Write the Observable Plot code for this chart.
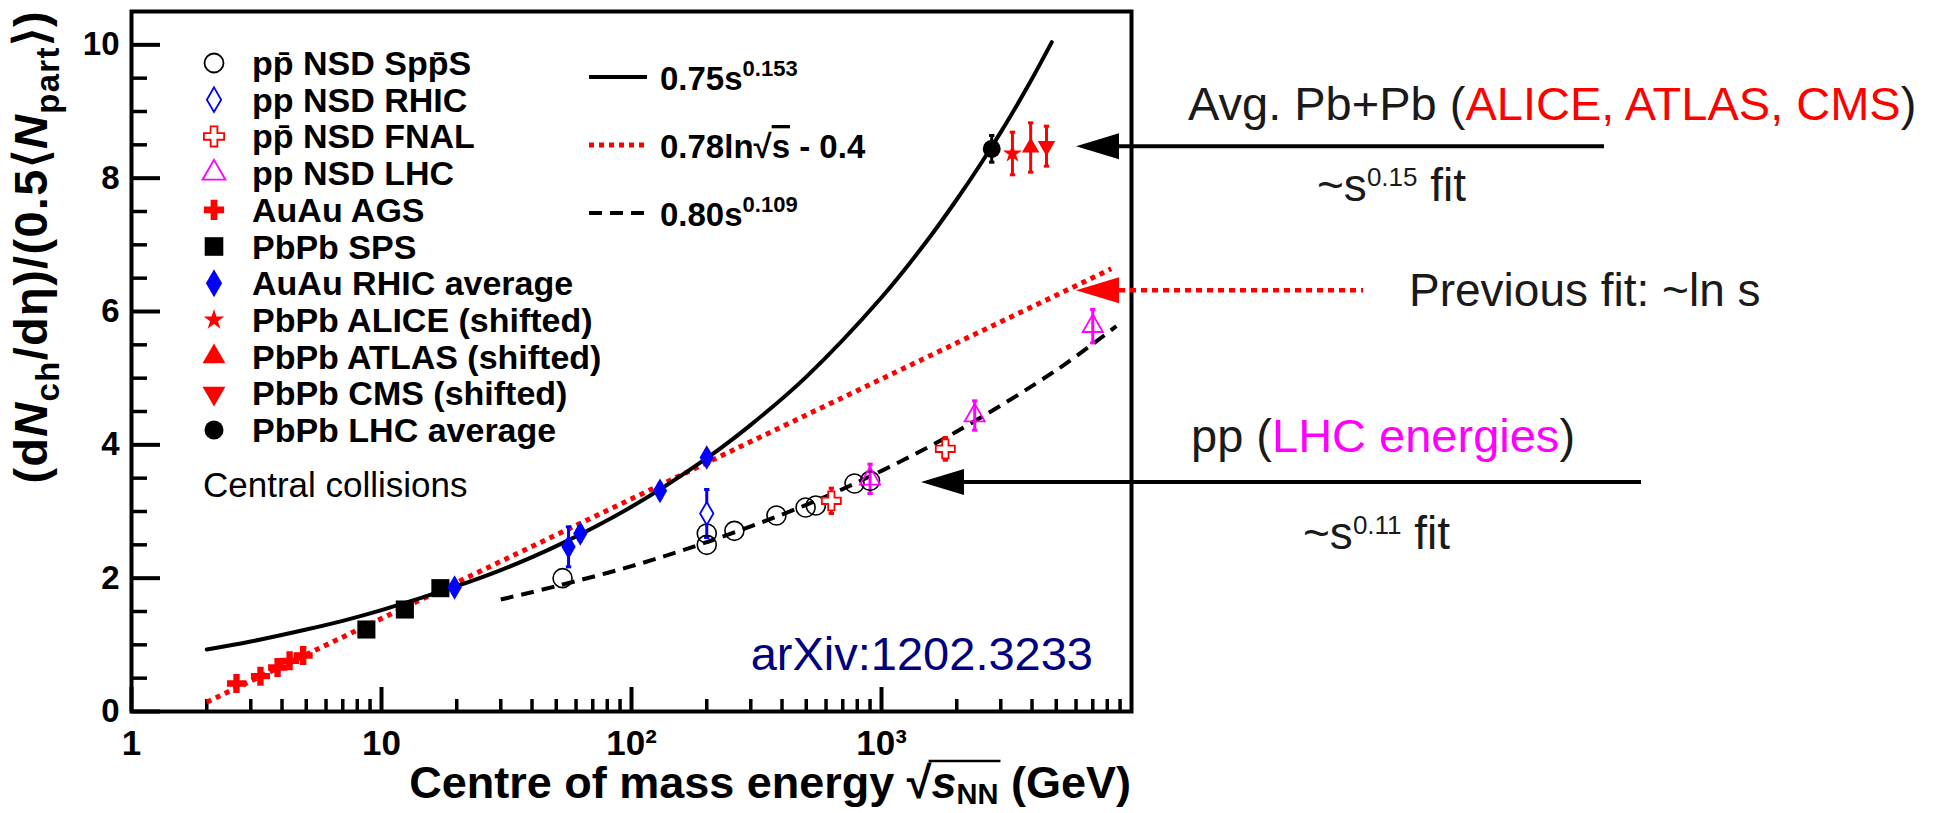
<!DOCTYPE html>
<html><head><meta charset="utf-8">
<script src="https://cdn.jsdelivr.net/npm/d3@7"></script>
<script src="https://cdn.jsdelivr.net/npm/@observablehq/plot@0.6"></script>
<style>
html,body{margin:0;padding:0;background:#fff;}
#chart svg{display:block;font-family:"Liberation Sans",Arial,Helvetica,sans-serif;background:#fff;}
g[aria-label="y-axis tick label"] text{font-size:33px;font-weight:bold;fill:#000;}
g[aria-label="x-axis tick label"] text{font-size:35px;font-weight:bold;fill:#000;}
</style></head><body><div id="chart"></div>
<script>
// ---------------- data ----------------
const X_TICKS_MAJOR = [1, 10, 100, 1000];
const X_TICK_LABELS = ["1", "10", "10\u00B2", "10\u00B3"];
const X_TICKS_MINOR = [2,3,4,5,6,7,8,9,20,30,40,50,60,70,80,90,200,300,400,500,600,700,800,900,2000,3000,4000,5000,6000,7000,8000,9000];
const Y_TICKS_MAJOR = [0, 2, 4, 6, 8, 10];
const Y_TICKS_MINOR = [0.5,1,1.5,2.5,3,3.5,4.5,5,5.5,6.5,7,7.5,8.5,9,9.5];

// pp̄ NSD SppS (open circles)
const SPPS_X = [53, 200, 200, 258, 380, 497, 546, 780, 900];
const SPPS_Y = [2.00, 2.67, 2.50, 2.71, 2.94, 3.06, 3.09, 3.42, 3.46];
// pp NSD RHIC (open diamond)
const PPRHIC_X = [200];
const PPRHIC_Y = [2.97];
const PPRHIC_ERR = [0.36];
// pp̄ NSD FNAL (open cross)
const FNAL_X = [630, 1800];
const FNAL_Y = [3.16, 3.94];
const FNAL_ERR = [0.19, 0.17];
// pp NSD LHC (open triangle)
const PPLHC_X = [900, 2360, 7000];
const PPLHC_Y = [3.49, 4.44, 5.78];
const PPLHC_ERR = [0.22, 0.22, 0.25];
// AuAu AGS (filled cross)
const AGS_X = [2.63, 3.28, 3.84, 4.29, 4.86];
const AGS_Y = [0.42, 0.53, 0.66, 0.76, 0.84];
// PbPb SPS (filled square)
const SPS_X = [8.7, 12.4, 17.2];
const SPS_Y = [1.23, 1.53, 1.85];
// AuAu RHIC average (filled diamond)
const RHIC_X = [19.6, 56, 62.4, 130, 200];
const RHIC_Y = [1.86, 2.47, 2.67, 3.31, 3.81];
const RHIC_ERR = [0.08, 0.30, 0.10, 0.10, 0.10];
// PbPb LHC (shifted)
const ALICE_X = [3340], ALICE_Y = [8.37], ALICE_ERR = [0.32];
const ATLAS_X = [3950], ATLAS_Y = [8.46], ATLAS_ERR = [0.37];
const CMS_X = [4570],   CMS_Y = [8.48],   CMS_ERR = [0.30];
const LHCAVG_X = [2760], LHCAVG_Y = [8.44], LHCAVG_ERR = [0.20];

// fit curves
const FIT153_X = [2, 3, 5, 7, 10, 20, 30, 50, 100, 200, 300, 500, 1000, 1500, 2000, 2500, 3000, 3500, 4000, 4800];
const FIT153_Y = [0.93, 1.05, 1.23, 1.36, 1.52, 1.88, 2.12, 2.48, 3.07, 3.80, 4.30, 5.02, 6.21, 7.03, 7.68, 8.22, 8.69, 9.11, 9.49, 10.04];
const FITLN_X = [2, 100, 8300];
const FITLN_Y = [0.14, 3.19, 6.64];
const FIT109_X = [30, 50, 100, 200, 500, 1000, 2000, 5000, 8700];
const FIT109_Y = [1.68, 1.88, 2.18, 2.54, 3.10, 3.61, 4.20, 5.12, 5.78];

const LEGEND_LABELS = ["pp\u0304 NSD Spp\u0304S", "pp NSD RHIC", "pp\u0304 NSD FNAL", "pp NSD LHC", "AuAu AGS", "PbPb SPS",
  "AuAu RHIC average", "PbPb ALICE (shifted)", "PbPb ATLAS (shifted)", "PbPb CMS (shifted)", "PbPb LHC average"];
// annotation levels (y values the arrows point at)
const ARROW_LEVELS = {pbpb: 8.47, ln: 6.31, pp: 3.435};

// ---------------- helpers ----------------
const pts = (xs, ys, es) => xs.map((x, i) => ({x, y: ys[i], e: es ? es[i] : 0}));
const spps = pts(SPPS_X, SPPS_Y), pprhic = pts(PPRHIC_X, PPRHIC_Y, PPRHIC_ERR), fnal = pts(FNAL_X, FNAL_Y, FNAL_ERR);
const pplhc = pts(PPLHC_X, PPLHC_Y, PPLHC_ERR), ags = pts(AGS_X, AGS_Y), sps = pts(SPS_X, SPS_Y);
const rhic = pts(RHIC_X, RHIC_Y, RHIC_ERR), alice = pts(ALICE_X, ALICE_Y, ALICE_ERR), atlas = pts(ATLAS_X, ATLAS_Y, ATLAS_ERR);
const cms = pts(CMS_X, CMS_Y, CMS_ERR), lhcavg = pts(LHCAVG_X, LHCAVG_Y, LHCAVG_ERR);
const fit153 = pts(FIT153_X, FIT153_Y), fitln = pts(FITLN_X, FITLN_Y), fit109 = pts(FIT109_X, FIT109_Y);

const cap = {draw(ctx, size) { const w = Math.sqrt(size) * 0.5; ctx.moveTo(-w, 0); ctx.lineTo(w, 0); }};
const err = (data, color, w = 3) => [
  Plot.ruleX(data.filter(d => d.e > 0), {x: "x", y1: d => d.y - d.e, y2: d => d.y + d.e, stroke: color, strokeWidth: w}),
  Plot.dot(data.filter(d => d.e > 0), {x: "x", y: d => d.y - d.e, symbol: cap, r: 3, stroke: color, strokeWidth: 3}),
  Plot.dot(data.filter(d => d.e > 0), {x: "x", y: d => d.y + d.e, symbol: cap, r: 3, stroke: color, strokeWidth: 3})
];

const FRAME_W = 1000, FRAME_H = 700;
const plot = Plot.plot({
  width: 1950, height: 813,
  marginLeft: 131, marginRight: 819, marginTop: 11, marginBottom: 102,
  x: {type: "log", domain: [1, 10000]},
  y: {domain: [0, 10.5]},
  marks: [
    Plot.axisY(Y_TICKS_MAJOR, {tickSize: 0, tickPadding: 12, label: null, tickFormat: d => String(d)}),
    Plot.axisX(X_TICKS_MAJOR, {tickSize: 0, tickPadding: 19, label: null, tickFormat: d => X_TICK_LABELS[X_TICKS_MAJOR.indexOf(d)]}),
    Plot.tickY(Y_TICKS_MAJOR, {y: d => d, insetRight: FRAME_W - 29, stroke: "black", strokeWidth: 4}),
    Plot.tickY(Y_TICKS_MINOR, {y: d => d, insetRight: FRAME_W - 16, stroke: "black", strokeWidth: 3.5}),
    Plot.tickX(X_TICKS_MAJOR, {x: d => d, insetTop: FRAME_H - 24, stroke: "black", strokeWidth: 4}),
    Plot.tickX(X_TICKS_MINOR, {x: d => d, insetTop: FRAME_H - 12, stroke: "black", strokeWidth: 3.5}),
    // fits
    Plot.line(fitln, {x: "x", y: "y", stroke: "#ff0000", strokeWidth: 5, strokeDasharray: "5,5", strokeLinecap: "butt"}),
    Plot.line(fit109, {x: "x", y: "y", stroke: "black", strokeWidth: 4, strokeDasharray: "13,8", strokeLinecap: "butt", curve: "catmull-rom"}),
    Plot.line(fit153, {x: "x", y: "y", stroke: "black", strokeWidth: 4, curve: "catmull-rom"}),
    // error bars
    ...err(pprhic, "#0000ff"), ...err(fnal, "#ff0000"), ...err(pplhc, "#ff00ff"), ...err(rhic, "#0000ff"),
    ...err(alice, "#ff0000"), ...err(atlas, "#ff0000"), ...err(cms, "#ff0000"), ...err(lhcavg, "black"),
    // points
    Plot.dot(spps, {x: "x", y: "y", symbol: "circle", r: 9.5, stroke: "black", strokeWidth: 1.6, fill: "none"}),
    Plot.dot(pprhic, {x: "x", y: "y", symbol: "diamond", r: 7, stroke: "#0000ff", strokeWidth: 1.8, fill: "white"}),
    Plot.dot(fnal, {x: "x", y: "y", symbol: "cross", r: 8, stroke: "#ff0000", strokeWidth: 1.8, fill: "white"}),
    Plot.dot(pplhc, {x: "x", y: "y", symbol: "triangle", r: 7.5, stroke: "#ff00ff", strokeWidth: 1.8, fill: "none"}),
    Plot.dot(ags, {x: "x", y: "y", symbol: "cross", r: 8, fill: "#ff0000", stroke: "none"}),
    Plot.dot(sps, {x: "x", y: "y", symbol: "square", r: 10.2, fill: "black", stroke: "none"}),
    Plot.dot(rhic, {x: "x", y: "y", symbol: "diamond", r: 7.5, fill: "#0000ff", stroke: "none"}),
    Plot.dot(alice, {x: "x", y: "y", symbol: "star", r: 6, fill: "#ff0000", stroke: "none"}),
    Plot.dot(atlas, {x: "x", y: "y", symbol: "triangle", r: 6.5, fill: "#ff0000", stroke: "none"}),
    Plot.dot(cms, {x: "x", y: "y", symbol: "triangle", rotate: 180, r: 6.5, fill: "#ff0000", stroke: "none"}),
    Plot.dot(lhcavg, {x: "x", y: "y", symbol: "circle", r: 9, fill: "black", stroke: "none"}),
    Plot.frame({stroke: "black", strokeWidth: 4})
  ]
});
document.getElementById("chart").appendChild(plot);

// ---------------- text, legend and annotations ----------------
const svg = d3.select(plot);
const xs = plot.scale("x"), ys = plot.scale("y");
const frameLeft = xs.range[0], frameRight = xs.range[1], frameTop = ys.range[1], frameBottom = ys.range[0];
const FONT = '"Liberation Sans",Arial,Helvetica,sans-serif';
const g = svg.append("g").attr("font-family", FONT).attr("text-anchor", "start");

function rich(parent, x, y, parts, base) {
  const t = parent.append("text").attr("x", x).attr("y", y).attr("text-anchor", "start");
  for (const k in base) t.attr(k, base[k]);
  let shift = 0;
  for (const p of parts) {
    const s = t.append("tspan").text(p.t);
    const target = p.sup ? -p.sup : (p.sub || 0);
    if (target !== shift) { s.attr("dy", target - shift); shift = target; }
    if (p.size) s.attr("font-size", p.size);
    if (p.fill) s.attr("fill", p.fill);
    if (p.weight) s.attr("font-weight", p.weight);
    if (p.italic) s.attr("font-style", "italic");
    if (p.over) s.style("text-decoration", "overline");
  }
  return t;
}

// y-axis title
rich(g.append("g").attr("transform", `translate(47,${frameTop - 1}) rotate(-90)`), 0, 0, [
  {t: "(d"}, {t: "N", italic: true}, {t: "ch", sub: 12, size: 33}, {t: "/d\u03B7)/(0.5\u27E8"},
  {t: "N", italic: true}, {t: "part", sub: 12, size: 33}, {t: "\u27E9)"}
], {"text-anchor": "end", "font-size": 47, "font-weight": "bold", fill: "black", "letter-spacing": 1.3});

// x-axis title with radical bar over s_NN
const XT_BASE = 798;
const xTitle = rich(g, frameRight, XT_BASE, [
  {t: "Centre of mass energy \u221A"}, {t: "s", italic: true}, {t: "NN", sub: 6, size: 29}, {t: " (GeV)"}
], {"text-anchor": "end", "font-size": 45, "font-weight": "bold", fill: "black", "xml:space": "preserve"});
{
  const node = xTitle.node(), txt = node.textContent;
  const iR = txt.indexOf("\u221A"), iEnd = txt.indexOf(" (GeV)") - 1;
  const xa = node.getEndPositionOfChar(iR).x - 3, xb = node.getEndPositionOfChar(iEnd).x + 2;
  g.append("line").attr("x1", xa).attr("x2", xb).attr("y1", XT_BASE - 37).attr("y2", XT_BASE - 37).attr("stroke", "black").attr("stroke-width", 2.5);
}

// legend of data sets
const LEG_SPECS = [
  {type: d3.symbolCircle, r: 9.5, fill: "none", stroke: "black"},
  {type: d3.symbolDiamond, r: 7.5, fill: "none", stroke: "#0000ff"},
  {type: d3.symbolCross, r: 8.5, fill: "white", stroke: "#ff0000"},
  {type: d3.symbolTriangle, r: 8.5, fill: "none", stroke: "#ff00ff"},
  {type: d3.symbolCross, r: 8.5, fill: "#ff0000", stroke: "none"},
  {type: d3.symbolSquare, r: 10.5, fill: "black", stroke: "none"},
  {type: d3.symbolDiamond, r: 8.5, fill: "#0000ff", stroke: "none"},
  {type: d3.symbolStar, r: 6.5, fill: "#ff0000", stroke: "none"},
  {type: d3.symbolTriangle, r: 8.5, fill: "#ff0000", stroke: "none"},
  {type: d3.symbolTriangle, r: 8.5, fill: "#ff0000", stroke: "none", rotate: 180},
  {type: d3.symbolCircle, r: 9.5, fill: "black", stroke: "none"}
];
const legX = 214, legTextX = 252, legY0 = 63, legDY = 36.7;
LEGEND_LABELS.forEach((label, i) => {
  const s = LEG_SPECS[i], cy = legY0 + i * legDY;
  g.append("path").attr("d", d3.symbol(s.type, s.r * s.r * Math.PI)())
    .attr("transform", `translate(${legX},${cy}) rotate(${s.rotate || 0})`)
    .attr("fill", s.fill).attr("stroke", s.stroke).attr("stroke-width", 1.8);
  g.append("text").attr("x", legTextX).attr("y", cy + 12).attr("font-size", 34).attr("font-weight", "bold").text(label);
});
g.append("text").attr("x", 203).attr("y", 497).attr("font-size", 35).text("Central collisions");

// legend of fits
const fitRows = [
  {dash: null, color: "black", w: 4, parts: [{t: "0.75s"}, {t: "0.153", sup: 14, size: 22}]},
  {dash: "5,5", color: "#ff0000", w: 5, parts: [{t: "0.78ln\u221A"}, {t: "s", over: true}, {t: " - 0.4"}]},
  {dash: "13,8", color: "black", w: 4, parts: [{t: "0.80s"}, {t: "0.109", sup: 14, size: 22}]}
];
fitRows.forEach((r, i) => {
  const cy = 77 + i * 68;
  g.append("line").attr("x1", 589).attr("x2", 647).attr("y1", cy).attr("y2", cy)
    .attr("stroke", r.color).attr("stroke-width", r.w).attr("stroke-dasharray", r.dash);
  rich(g, 660, cy + 13, r.parts, {"font-size": 33, "font-weight": "bold", fill: "black", "xml:space": "preserve"});
});

// arXiv tag
g.append("text").attr("x", 1093).attr("y", 670).attr("text-anchor", "end").attr("font-size", 47)
  .attr("fill", "#000080").text("arXiv:1202.3233");

// right-hand annotations
const INK = "#1a1a1a";
function arrowHead(tipX, y, color) {
  g.append("path").attr("d", `M${tipX},${y}L${tipX + 43},${y - 13}L${tipX + 43},${y + 13}Z`).attr("fill", color);
}
const yA = ys.apply(ARROW_LEVELS.pbpb), yB = ys.apply(ARROW_LEVELS.ln), yC = ys.apply(ARROW_LEVELS.pp);
// PbPb
g.append("line").attr("x1", frameRight - 15).attr("x2", frameRight + 473).attr("y1", yA).attr("y2", yA).attr("stroke", "black").attr("stroke-width", 4);
arrowHead(frameRight - 55, yA, "black");
rich(g, frameRight + 57, yA - 26, [{t: "Avg. Pb+Pb ("}, {t: "ALICE, ATLAS, CMS", fill: "#ff0000"}, {t: ")"}],
  {"font-size": 47, fill: INK, "xml:space": "preserve"});
rich(g, frameRight + 186, yA + 55, [{t: "~s"}, {t: "0.15", sup: 15, size: 26}, {t: " fit"}],
  {"font-size": 46, fill: INK, "xml:space": "preserve"});
// ln s
g.append("line").attr("x1", frameRight - 12).attr("x2", frameRight + 232).attr("y1", yB).attr("y2", yB)
  .attr("stroke", "#ff0000").attr("stroke-width", 4.5).attr("stroke-dasharray", "6,5");
arrowHead(frameRight - 55, yB, "#ff0000");
rich(g, frameRight + 278, yB + 16, [{t: "Previous fit: ~ln s"}], {"font-size": 46, fill: INK});
// pp
g.append("line").attr("x1", frameRight - 170).attr("x2", frameRight + 510).attr("y1", yC).attr("y2", yC).attr("stroke", "black").attr("stroke-width", 4);
arrowHead(frameRight - 210, yC, "black");
rich(g, frameRight + 60, yC - 30, [{t: "pp ("}, {t: "LHC energies", fill: "#ff00ff"}, {t: ")"}],
  {"font-size": 47, fill: INK, "xml:space": "preserve"});
rich(g, frameRight + 172, yC + 67, [{t: "~s"}, {t: "0.11", sup: 15, size: 26}, {t: " fit"}],
  {"font-size": 46, fill: INK, "xml:space": "preserve"});
</script>
</body></html>
